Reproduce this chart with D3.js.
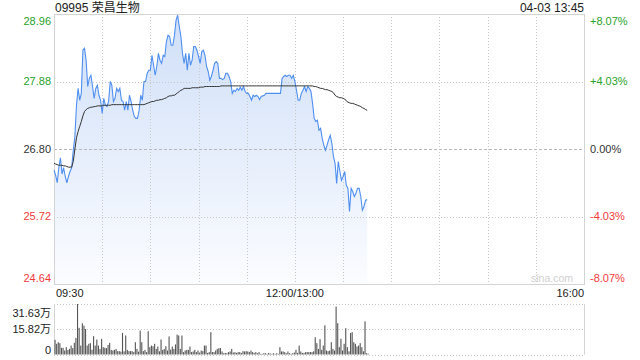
<!DOCTYPE html>
<html>
<head>
<meta charset="utf-8">
<script src="https://cdn.jsdelivr.net/npm/d3@7"></script>
<style>
  body { margin: 0; background: #fff; }
  svg { display: block; font-family: Arial, "Liberation Sans", "Noto Sans CJK SC", sans-serif; }
</style>
</head>
<body>
<svg id="chart" width="640" height="360"></svg>
<script>
var stockName = "09995 荣昌生物";
var stampText = "04-03 13:45";
var prevClose = 26.80;
var priceTicks = [28.96, 27.88, 26.80, 25.72, 24.64];
var pctTicks = ["+8.07%", "+4.03%", "0.00%", "-4.03%", "-8.07%"];
var timeTicks = [0, 150, 330];
var timeLabels = ["09:30", "12:00/13:00", "16:00"];
var volTicks = [31.63, 15.82, 0];
var volLabels = ["31.63万", "15.82万", "0"];

// one value per minute, 09:30 .. 12:00 then 13:01 .. 13:45
var price = [
    26.46, 26.38, 26.26, 26.50, 26.66, 26.40, 26.50, 26.36, 26.26, 26.36,
    26.44, 26.50, 26.78, 27.00, 27.50, 27.77, 27.58, 27.69, 28.38, 28.41,
    28.22, 27.80, 27.93, 27.98, 27.80, 27.61, 27.77, 27.82, 27.66, 27.58,
    27.37, 27.61, 27.50, 27.48, 27.56, 27.88, 27.82, 27.56, 27.61, 27.77,
    27.72, 27.77, 27.58, 27.56, 27.42, 27.56, 27.42, 27.66, 27.56, 27.42,
    27.32, 27.29, 27.29, 27.42, 27.66, 27.58, 27.88, 27.88, 28.01, 28.06,
    28.06, 28.30, 28.14, 27.98, 28.12, 28.33, 28.22, 28.17, 28.30, 28.28,
    28.52, 28.62, 28.60, 28.46, 28.46, 28.62, 28.86, 28.94, 28.76, 28.60,
    28.33, 28.17, 28.33, 28.06, 28.33, 28.14, 28.22, 28.44, 28.44, 28.38,
    28.28, 28.17, 28.36, 28.38, 28.30, 28.12, 28.04, 27.90, 27.96, 28.06,
    28.17, 28.20, 28.17, 27.93, 27.93, 27.91, 27.93, 28.01, 28.01, 27.96,
    27.88, 27.69, 27.74, 27.72, 27.77, 27.74, 27.79, 27.74, 27.80, 27.72,
    27.69, 27.69, 27.64, 27.58, 27.66, 27.64, 27.66, 27.64, 27.59, 27.64,
    27.65, 27.66, 27.69, 27.69, 27.69, 27.69, 27.69, 27.69, 27.69, 27.69,
    27.69, 27.69, 27.93, 27.96, 27.98, 27.96, 27.98, 27.98, 27.93, 27.98,
    27.88, 27.74, 27.58, 27.58, 27.69, 27.74, 27.80, 27.72, 27.80, 27.77,
    27.72, 27.53, 27.29, 27.24, 27.26, 27.10, 27.13, 26.97, 26.86, 26.78,
    26.86, 26.95, 27.02, 26.89, 26.68, 26.57, 26.25, 26.60, 26.44, 26.30,
    26.36, 26.44, 26.22, 26.17, 25.80, 26.17, 26.12, 26.04, 26.09, 26.17,
    26.17, 26.04, 25.82, 25.88, 25.98, 25.99
];

var avg = [
    26.57, 26.56, 26.55, 26.54, 26.54, 26.54, 26.53, 26.53, 26.52, 26.51,
    26.51, 26.51, 26.60, 26.80, 26.98, 27.08, 27.16, 27.24, 27.33, 27.40,
    27.43, 27.45, 27.46, 27.47, 27.47, 27.48, 27.48, 27.49, 27.49, 27.49,
    27.49, 27.50, 27.50, 27.50, 27.50, 27.50, 27.51, 27.51, 27.51, 27.51,
    27.51, 27.51, 27.51, 27.51, 27.51, 27.51, 27.51, 27.51, 27.51, 27.51,
    27.51, 27.51, 27.51, 27.51, 27.51, 27.51, 27.51, 27.52, 27.53, 27.54,
    27.55, 27.56, 27.56, 27.57, 27.58, 27.58, 27.59, 27.59, 27.60, 27.61,
    27.62, 27.64, 27.65, 27.65, 27.66, 27.66, 27.68, 27.70, 27.72, 27.74,
    27.75, 27.77, 27.77, 27.77, 27.77, 27.77, 27.78, 27.78, 27.78, 27.78,
    27.78, 27.79, 27.79, 27.79, 27.80, 27.80, 27.80, 27.80, 27.80, 27.80,
    27.80, 27.80, 27.80, 27.80, 27.81, 27.81, 27.81, 27.81, 27.81, 27.81,
    27.81, 27.81, 27.81, 27.81, 27.81, 27.81, 27.81, 27.81, 27.81, 27.81,
    27.81, 27.81, 27.81, 27.81, 27.81, 27.81, 27.81, 27.81, 27.81, 27.81,
    27.81, 27.81, 27.81, 27.81, 27.81, 27.81, 27.81, 27.81, 27.81, 27.81,
    27.81, 27.81, 27.81, 27.81, 27.81, 27.81, 27.81, 27.81, 27.81, 27.81,
    27.81, 27.81, 27.81, 27.81, 27.81, 27.81, 27.81, 27.81, 27.81, 27.81,
    27.81, 27.81, 27.80, 27.80, 27.79, 27.78, 27.77, 27.77, 27.76, 27.75,
    27.75, 27.74, 27.73, 27.72, 27.70, 27.66, 27.64, 27.63, 27.62, 27.62,
    27.61, 27.60, 27.57, 27.55, 27.54, 27.53, 27.53, 27.52, 27.51, 27.50,
    27.49, 27.48, 27.46, 27.45, 27.43, 27.42
];

// volume in 万 shares
var volume = [
    9.2, 6.7, 7.7, 7.1, 4.2, 4.2, 2.5, 4.6, 2.8, 3.5,
    5.6, 4.0, 7.3, 10.4, 31.63, 16.7, 5.6, 19.6, 18.1, 16.0,
    5.6, 6.7, 7.1, 3.0, 11.5, 5.6, 9.4, 5.6, 3.5, 9.8,
    4.6, 4.2, 4.0, 6.0, 7.3, 2.9, 2.5, 2.9, 3.5, 2.1,
    2.1, 1.8, 13.5, 2.0, 11.9, 2.9, 2.1, 2.1, 2.1, 1.5,
    7.7, 3.5, 1.8, 15.0, 7.7, 2.1, 2.9, 1.5, 14.6, 4.6,
    5.6, 5.2, 6.7, 3.5, 5.0, 2.0, 9.4, 2.9, 3.5, 5.2,
    2.5, 11.3, 3.1, 5.0, 3.5, 6.3, 12.5, 11.9, 3.5, 11.9,
    1.5, 2.5, 2.9, 2.9, 5.0, 1.5, 1.9, 2.9, 1.5, 2.5,
    1.2, 2.5, 2.1, 5.6, 5.6, 1.0, 1.5, 14.0, 1.5, 1.5,
    2.5, 3.5, 4.0, 4.0, 1.9, 0.8, 1.0, 0.8, 1.5, 1.9,
    3.5, 1.2, 1.5, 1.0, 1.5, 1.5, 1.0, 2.1, 1.9, 2.1,
    1.9, 1.5, 2.5, 1.5, 1.0, 1.5, 0.8, 1.5, 0.4, 0.4,
    0.8, 0.8, 0.4, 1.0, 0.6, 0.4, 0.8, 0.4, 0.8, 0.4,
    4.6, 1.9, 1.9, 1.5, 0.8, 1.9, 0.8, 0.4, 0.8, 1.2,
    2.9, 1.0, 5.6, 1.9, 1.0, 1.0, 1.5, 1.5, 1.5, 1.5,
    1.5, 2.0, 10.8, 7.1, 3.5, 9.6, 2.9, 5.6, 18.3, 2.5,
    2.1, 2.5, 7.7, 3.5, 2.5, 30.0, 19.6, 4.6, 9.8, 2.5,
    6.7, 16.5, 4.6, 2.0, 13.5, 14.0, 7.7, 6.7, 5.0, 5.6,
    7.1, 4.6, 2.0, 20.8, 0.8, 0.5
];

var upColor = "#28a228";
var downColor = "#f03a3a";
var flatColor = "#333";

var svg = d3.select("#chart");

var plotLeft = 54, plotRight = 584, plotTop = 14, plotBottom = 284;
var volTop = 304, volBottom = 354.5;

var xScale = d3.scaleLinear().domain([0, 330]).range([plotLeft, plotRight]);
var yScale = d3.scaleLinear().domain([24.64, 28.96]).range([plotBottom, plotTop]);
var vScale = d3.scaleLinear().domain([0, 31.63]).range([volBottom, volTop]);

function tickColor(v) {
    if (Math.abs(v - prevClose) < 0.001) return flatColor;
    return v > prevClose ? upColor : downColor;
}

var defs = svg.append("defs");
var grad = defs.append("linearGradient")
    .attr("id", "areaFill")
    .attr("gradientUnits", "userSpaceOnUse")
    .attr("x1", 0).attr("y1", plotTop).attr("x2", 0).attr("y2", plotBottom);
grad.append("stop").attr("offset", "0%").attr("stop-color", "#cfdff8");
grad.append("stop").attr("offset", "100%").attr("stop-color", "#fbfcff");

// title
svg.append("text")
    .attr("x", 55).attr("y", 12)
    .attr("font-size", 12).attr("fill", "#222")
    .text(stockName);

svg.append("text")
    .attr("x", plotRight).attr("y", 12)
    .attr("text-anchor", "end")
    .attr("font-size", 12).attr("fill", "#222")
    .text(stampText);

// area + lines
var area = d3.area()
    .x(function (d, i) { return xScale(i); })
    .y0(plotBottom)
    .y1(function (d) { return yScale(d); });

var line = d3.line()
    .x(function (d, i) { return xScale(i); })
    .y(function (d) { return yScale(d); });

svg.append("path")
    .datum(price)
    .attr("fill", "url(#areaFill)")
    .attr("d", area);

// grid
var grid = svg.append("g").attr("class", "grid");

grid.selectAll(".vgrid")
    .data(d3.range(30, 330, 30))
    .enter().append("line")
    .attr("x1", function (d) { return Math.round(xScale(d)) + 0.5; })
    .attr("x2", function (d) { return Math.round(xScale(d)) + 0.5; })
    .attr("y1", plotTop).attr("y2", plotBottom)
    .attr("stroke", "#c8c8c8")
    .attr("stroke-dasharray", "1,2");

grid.selectAll(".hgrid")
    .data(priceTicks.slice(1, priceTicks.length - 1))
    .enter().append("line")
    .attr("x1", plotLeft).attr("x2", plotRight)
    .attr("y1", function (d) { return Math.round(yScale(d)) + 0.5; })
    .attr("y2", function (d) { return Math.round(yScale(d)) + 0.5; })
    .attr("stroke", function (d) { return d === prevClose ? "#b8b8b8" : "#c8c8c8"; })
    .attr("stroke-dasharray", function (d) { return d === prevClose ? "3,2" : "1,2"; });

svg.append("rect")
    .attr("x", plotLeft + 0.5).attr("y", plotTop + 0.5)
    .attr("width", plotRight - plotLeft).attr("height", plotBottom - plotTop)
    .attr("fill", "none")
    .attr("stroke", "#d4d4d4");

svg.append("text")
    .attr("x", 573).attr("y", 282)
    .attr("text-anchor", "end")
    .attr("font-size", 10.5).attr("fill", "#cfcfcf")
    .text("sina.com");

svg.append("path")
    .datum(price)
    .attr("fill", "none")
    .attr("stroke", "#4f8ff0")
    .attr("stroke-width", 1.1)
    .attr("d", line);

svg.append("path")
    .datum(avg)
    .attr("fill", "none")
    .attr("stroke", "#333")
    .attr("stroke-width", 1)
    .attr("d", line);

// price axis labels, end labels kept inside the frame
function labelY(v, i, n) {
    var y = yScale(v);
    if (i === 0) return y + 10.5;
    if (i === n - 1) return y - 2;
    return y + 3.8;
}

svg.selectAll(".ylab")
    .data(priceTicks)
    .enter().append("text")
    .attr("x", 51)
    .attr("y", function (d, i) { return labelY(d, i, priceTicks.length); })
    .attr("text-anchor", "end")
    .attr("font-size", 11)
    .attr("fill", tickColor)
    .text(function (d) { return d.toFixed(2); });

svg.selectAll(".pctlab")
    .data(priceTicks)
    .enter().append("text")
    .attr("x", 590)
    .attr("y", function (d, i) { return labelY(d, i, priceTicks.length); })
    .attr("font-size", 11)
    .attr("fill", tickColor)
    .text(function (d, i) { return pctTicks[i]; });

// time labels
svg.selectAll(".tlab")
    .data(timeTicks)
    .enter().append("text")
    .attr("x", function (d, i) { return i === 0 ? plotLeft + 2 : (i === timeTicks.length - 1 ? plotRight : xScale(d)); })
    .attr("y", 297)
    .attr("text-anchor", function (d, i) { return i === 0 ? "start" : (i === timeTicks.length - 1 ? "end" : "middle"); })
    .attr("font-size", 11)
    .attr("fill", "#222")
    .text(function (d, i) { return timeLabels[i]; });

// volume panel
svg.selectAll(".vline")
    .data(volTicks)
    .enter().append("line")
    .attr("x1", plotLeft).attr("x2", plotRight)
    .attr("y1", function (d) { return Math.round(vScale(d)) + 0.5; })
    .attr("y2", function (d) { return Math.round(vScale(d)) + 0.5; })
    .attr("stroke", "#c8c8c8")
    .attr("stroke-dasharray", "1,2");

svg.append("line")
    .attr("x1", plotLeft + 0.5).attr("x2", plotLeft + 0.5)
    .attr("y1", volTop).attr("y2", volBottom)
    .attr("stroke", "#d4d4d4");

svg.append("line")
    .attr("x1", plotRight + 0.5).attr("x2", plotRight + 0.5)
    .attr("y1", volTop).attr("y2", volBottom)
    .attr("stroke", "#d4d4d4");

svg.selectAll(".bar")
    .data(volume)
    .enter().append("rect")
    .attr("class", "bar")
    .attr("x", function (d, i) { return xScale(i) + 0.5; })
    .attr("y", function (d) { return vScale(d); })
    .attr("width", 1.1)
    .attr("height", function (d) { return volBottom - vScale(d); })
    .attr("fill", "#555");

var volLabelY = [316.5, 333, 353.5];
svg.selectAll(".vlab")
    .data(volTicks)
    .enter().append("text")
    .attr("x", 51)
    .attr("y", function (d, i) { return volLabelY[i]; })
    .attr("text-anchor", "end")
    .attr("font-size", 11)
    .attr("fill", "#222")
    .text(function (d, i) { return volLabels[i]; });
</script>
</body>
</html>
